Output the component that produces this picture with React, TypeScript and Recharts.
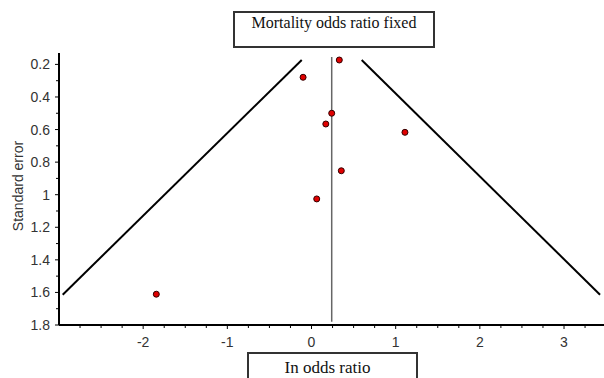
import { ScatterChart, Scatter, XAxis, YAxis, ReferenceLine } from 'recharts';

// study estimates
const studyLogOR = [0.33, -0.1, 0.24, 0.17, 1.11, 0.354, 0.062, -1.844];
const studySE = [0.173, 0.279, 0.5, 0.566, 0.617, 0.853, 1.026, 1.611];

// pooled (fixed) estimate and the pseudo-95% limits
const pooledLogOR = 0.24;
const pooledLineSE = [0.155, 1.78];
const leftLimitX = [-0.116, -2.956];
const rightLimitX = [0.596, 3.428];
const limitSE = [0.173, 1.614];

const xTicks = [
  -2.75, -2.5, -2.25, -2, -1.75, -1.5, -1.25, -1, -0.75, -0.5, -0.25, 0,
  0.25, 0.5, 0.75, 1, 1.25, 1.5, 1.75, 2, 2.25, 2.5, 2.75, 3, 3.25,
];
const yTicks = [0.2, 0.3, 0.4, 0.5, 0.6, 0.7, 0.8, 0.9, 1, 1.1, 1.2, 1.3, 1.4, 1.5, 1.6, 1.7, 1.8];

const points = studyLogOR.map((x, i) => ({ x, se: studySE[i] }));

const sans = '"Liberation Sans", Arial, sans-serif';
const serif = '"Liberation Serif", "Times New Roman", serif';

const XTick = (props: any) => {
  const { x, y, payload } = props;
  const v = payload.value;
  const major = Number.isInteger(v);
  return (
    <g>
      <line x1={x} x2={x} y1={y} y2={y + (major ? 4 : 3)} stroke="#000" strokeWidth={1} />
      {major && (
        <text x={x} y={y + 22} textAnchor="middle" fontSize={14} fontFamily={sans} fill="#333">
          {String(v)}
        </text>
      )}
    </g>
  );
};

const YTick = (props: any) => {
  const { x, y, payload } = props;
  const v = payload.value;
  const major = Math.round(v * 10) % 2 === 0;
  return (
    <g>
      <line x1={x - (major ? 4 : 3)} x2={x} y1={y} y2={y} stroke="#000" strokeWidth={1} />
      {major && (
        <text x={x - 9} y={y + 5} textAnchor="end" fontSize={14} fontFamily={sans} fill="#333">
          {String(v)}
        </text>
      )}
    </g>
  );
};

const Dot = (props: any) => {
  const { cx, cy } = props;
  return <circle cx={cx} cy={cy} r={3} fill="#e00000" stroke="#300" strokeWidth={1} />;
};

export default function App() {
  return (
    <div style={{ position: 'absolute', left: 0, top: 0, width: 604, height: 378, background: '#fff', overflow: 'hidden' }}>
      <ScatterChart width={604} height={378} margin={{ top: 53, right: 0, bottom: 0, left: 0 }}>
        <XAxis
          dataKey="x"
          type="number"
          domain={[-3, 3.475]}
          allowDataOverflow
          ticks={xTicks}
          interval={0}
          height={53}
          tickSize={0}
          tickMargin={0}
          tickLine={false}
          tick={<XTick />}
          axisLine={{ stroke: '#000', strokeWidth: 2 }}
        />
        <YAxis
          dataKey="se"
          type="number"
          reversed
          domain={[0.13, 1.8]}
          allowDataOverflow
          ticks={yTicks}
          interval={0}
          width={59}
          tickSize={0}
          tickMargin={0}
          tickLine={false}
          tick={<YTick />}
          axisLine={{ stroke: '#000', strokeWidth: 2 }}
        />
        <ReferenceLine
          segment={[{ x: leftLimitX[0], y: limitSE[0] }, { x: leftLimitX[1], y: limitSE[1] }]}
          stroke="#000"
          strokeWidth={2}
          ifOverflow="visible"
        />
        <ReferenceLine
          segment={[{ x: rightLimitX[0], y: limitSE[0] }, { x: rightLimitX[1], y: limitSE[1] }]}
          stroke="#000"
          strokeWidth={2}
          ifOverflow="visible"
        />
        <ReferenceLine
          segment={[{ x: pooledLogOR, y: pooledLineSE[0] }, { x: pooledLogOR, y: pooledLineSE[1] }]}
          stroke="#666"
          strokeWidth={1.5}
          ifOverflow="visible"
        />
        <Scatter data={points} shape={<Dot />} isAnimationActive={false} />
      </ScatterChart>

      <div
        style={{
          position: 'absolute', left: 233, top: 11, width: 202, height: 37, boxSizing: 'border-box',
          border: '2px solid #333', fontFamily: serif, fontSize: 16, lineHeight: '18px',
          textAlign: 'center', paddingTop: 1, color: '#111',
        }}
      >
        Mortality odds ratio fixed
      </div>
      <div
        style={{
          position: 'absolute', left: 247, top: 352, width: 171, height: 40, boxSizing: 'border-box',
          border: '2px solid #333', fontFamily: serif, fontSize: 17, lineHeight: '19px',
          textAlign: 'center', paddingTop: 4, paddingRight: 10, color: '#111',
        }}
      >
        In odds ratio
      </div>
      <div
        style={{
          position: 'absolute', left: 17.5, top: 186, transform: 'translate(-50%, -50%) rotate(-90deg)',
          whiteSpace: 'nowrap', fontFamily: sans, fontSize: 14, color: '#333',
        }}
      >
        Standard error
      </div>
    </div>
  );
}
